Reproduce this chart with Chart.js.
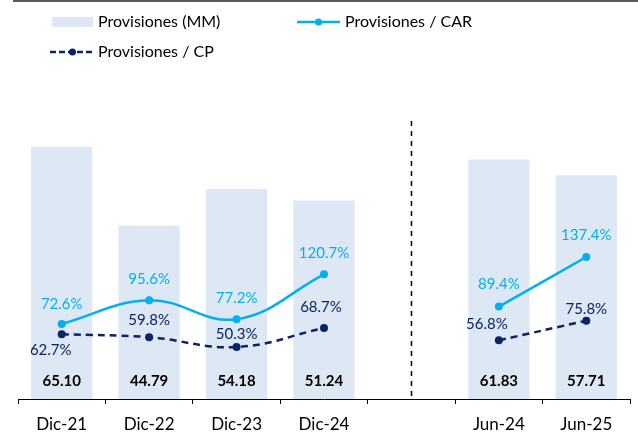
<!DOCTYPE html>
<html>
<head>
<meta charset="utf-8">
<script src="https://cdn.jsdelivr.net/npm/chart.js@4/dist/chart.umd.min.js"></script>
<style>
  html, body { margin: 0; padding: 0; background: #ffffff; }
  #wrap { position: relative; width: 638px; height: 437px; }
</style>
</head>
<body>
<div id="wrap"><canvas id="c" width="638" height="437"></canvas></div>
<script>
// ---- data ----
const categories = ['Dic-21', 'Dic-22', 'Dic-23', 'Dic-24', '', 'Jun-24', 'Jun-25'];
const provisionesMM = [65.10, 44.79, 54.18, 51.24, null, 61.83, 57.71];
const provisionesCAR = [72.6, 95.6, 77.2, 120.7, null, 89.4, 137.4];
const provisionesCP = [62.7, 59.8, 50.3, 68.7, null, 56.8, 75.8];
const seriesNames = ['Provisiones (MM)', 'Provisiones / CAR', 'Provisiones / CP'];

// ---- styles ----
const FONT = 'Lato, "Open Sans", sans-serif';
const BAR_COLOR = '#dde8f4';
const CAR_COLOR = '#00b0f0';
const CP_COLOR = '#0b2466';
// label offsets (dx, dy) relative to point, px
const carLabelOffset = [[0,-20],[0,-21],[0,-21],[0,-21],null,[0,-22],[0,-22]];
const cpLabelOffset = [[-11,16],[0,-17],[0,-13],[-3,-21],null,[-12,-16],[0,-12]];

const overlay = {
  id: 'overlay',
  beforeDraw(chart) {
    const ctx = chart.ctx;
    ctx.save();
    ctx.fillStyle = '#5a5a5a';
    ctx.fillRect(13, 0, 638 - 13, 2);
    ctx.restore();
  },
  afterDatasetsDraw(chart) {
    const ctx = chart.ctx;
    const x = chart.scales.x;
    const area = chart.chartArea;
    ctx.save();
    // separator dashed line
    const sx = Math.round(x.getPixelForValue(4)) + 0.5;
    ctx.strokeStyle = '#000000';
    ctx.lineWidth = 1.5;
    ctx.setLineDash([5, 5]);
    ctx.beginPath();
    ctx.moveTo(sx, 121);
    ctx.lineTo(sx, area.bottom);
    ctx.stroke();
    ctx.setLineDash([]);

    // bar value labels
    const barMeta = chart.getDatasetMeta(0);
    ctx.font = 'bold 15px ' + FONT;
    ctx.fillStyle = '#000000';
    ctx.textAlign = 'center';
    ctx.textBaseline = 'middle';
    barMeta.data.forEach((el, i) => {
      const v = provisionesMM[i];
      if (v == null) return;
      ctx.fillText(v.toFixed(2), el.x, area.bottom - 18);
    });

    // line labels
    ctx.font = '15px ' + FONT;
    const carMeta = chart.getDatasetMeta(1);
    ctx.fillStyle = CAR_COLOR;
    carMeta.data.forEach((el, i) => {
      const v = provisionesCAR[i];
      if (v == null) return;
      const o = carLabelOffset[i];
      ctx.fillText(v.toFixed(1) + '%', el.x + o[0], el.y + o[1]);
    });
    const cpMeta = chart.getDatasetMeta(2);
    ctx.fillStyle = CP_COLOR;
    cpMeta.data.forEach((el, i) => {
      const v = provisionesCP[i];
      if (v == null) return;
      const o = cpLabelOffset[i];
      ctx.fillText(v.toFixed(1) + '%', el.x + o[0], el.y + o[1]);
    });

    // legend
    ctx.font = '16px ' + FONT;
    ctx.textAlign = 'left';
    ctx.fillStyle = '#000000';
    // item 1
    ctx.fillStyle = BAR_COLOR;
    ctx.fillRect(52, 17, 41, 10);
    ctx.fillStyle = '#000000';
    ctx.fillText(seriesNames[0], 98, 22);
    // item 2
    ctx.strokeStyle = CAR_COLOR;
    ctx.lineWidth = 2.5;
    ctx.beginPath(); ctx.moveTo(297, 22); ctx.lineTo(340, 22); ctx.stroke();
    ctx.fillStyle = CAR_COLOR;
    ctx.beginPath(); ctx.arc(318.5, 22, 3.5, 0, Math.PI * 2); ctx.fill();
    ctx.fillStyle = '#000000';
    ctx.fillText(seriesNames[1], 345, 22);
    // item 3
    ctx.strokeStyle = CP_COLOR;
    ctx.setLineDash([6, 3]);
    ctx.beginPath(); ctx.moveTo(50, 52); ctx.lineTo(95, 52); ctx.stroke();
    ctx.setLineDash([]);
    ctx.fillStyle = CP_COLOR;
    ctx.beginPath(); ctx.arc(72.5, 52, 3.5, 0, Math.PI * 2); ctx.fill();
    ctx.fillStyle = '#000000';
    ctx.fillText(seriesNames[2], 98, 52);
    ctx.restore();
  }
};

new Chart(document.getElementById('c'), {
  data: {
    labels: categories,
    datasets: [
      {
        type: 'bar',
        label: seriesNames[0],
        data: provisionesMM,
        backgroundColor: BAR_COLOR,
        yAxisID: 'y',
        categoryPercentage: 1.0,
        barPercentage: 0.7,
        order: 3
      },
      {
        type: 'line',
        label: seriesNames[1],
        data: provisionesCAR,
        borderColor: CAR_COLOR,
        backgroundColor: CAR_COLOR,
        borderWidth: 2.5,
        pointRadius: 4,
        pointBorderWidth: 0,
        tension: 0.4,
        spanGaps: false,
        yAxisID: 'y1',
        order: 1
      },
      {
        type: 'line',
        label: seriesNames[2],
        data: provisionesCP,
        borderColor: CP_COLOR,
        backgroundColor: CP_COLOR,
        borderWidth: 2.5,
        borderDash: [7, 5],
        pointRadius: 4,
        pointBorderWidth: 0,
        tension: 0.4,
        spanGaps: false,
        yAxisID: 'y1',
        order: 2
      }
    ]
  },
  options: {
    responsive: false,
    animation: false,
    layout: { padding: { left: 18, right: 8, top: 89, bottom: 0 } },
    plugins: {
      legend: { display: false },
      tooltip: { enabled: false }
    },
    scales: {
      x: {
        offset: true,
        afterFit(scale) { scale.height = 38; },
        grid: {
          display: true,
          offset: true,
          drawOnChartArea: false,
          drawTicks: true,
          tickLength: 5,
          color: '#000000',
          lineWidth: 1
        },
        border: { display: true, color: '#000000', width: 1 },
        ticks: {
          padding: 12,
          color: '#000000',
          font: { family: FONT, size: 17, lineHeight: 1 },
          maxRotation: 0,
          autoSkip: false
        }
      },
      y: { display: false, min: 0, max: 80 },
      y1: { display: false, min: 0, max: 300, position: 'right' }
    }
  },
  plugins: [overlay]
});
</script>
</body>
</html>
